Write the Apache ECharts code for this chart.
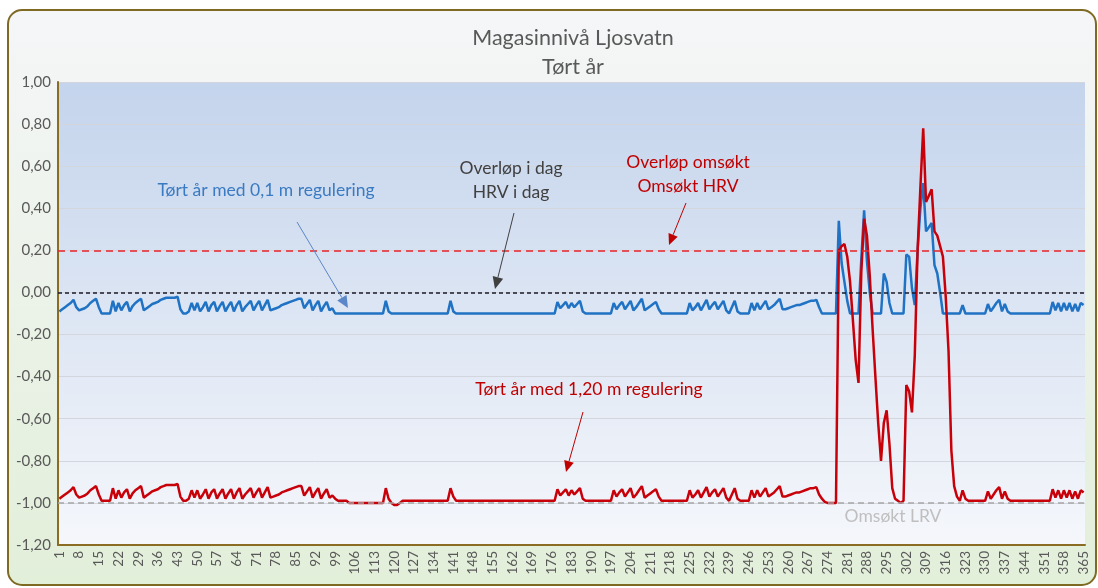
<!DOCTYPE html>
<html><head><meta charset="utf-8">
<script src="https://cdn.jsdelivr.net/npm/echarts@6.0.0/dist/echarts.min.js"></script>
<style>html,body{margin:0;padding:0;background:#fff}#c{width:1098px;height:588px}</style>
</head><body><div id="c"></div>
<script>
// ---- data ----
const days = [];
for (let d = 1; d <= 365; d++) days.push(String(d));

// Tørt år med 0,1 m regulering
const blueSeries = [
-0.09,-0.08,-0.07,-0.06,-0.05,-0.035,-0.07,-0.085,-0.08,-0.075,
-0.065,-0.05,-0.04,-0.03,-0.07,-0.10,-0.10,-0.10,-0.10,-0.04,
-0.09,-0.05,-0.085,-0.06,-0.045,-0.09,-0.065,-0.05,-0.04,-0.03,
-0.085,-0.075,-0.065,-0.055,-0.05,-0.045,-0.035,-0.03,-0.025,-0.025,
-0.025,-0.025,-0.02,-0.08,-0.10,-0.10,-0.09,-0.05,-0.085,-0.05,
-0.09,-0.07,-0.045,-0.09,-0.06,-0.045,-0.09,-0.065,-0.045,-0.09,
-0.065,-0.045,-0.09,-0.06,-0.04,-0.09,-0.07,-0.055,-0.04,-0.085,
-0.06,-0.04,-0.085,-0.06,-0.035,-0.085,-0.08,-0.075,-0.07,-0.06,
-0.055,-0.05,-0.045,-0.04,-0.035,-0.03,-0.03,-0.075,-0.055,-0.035,
-0.085,-0.06,-0.04,-0.09,-0.065,-0.045,-0.085,-0.075,-0.10,-0.10,
-0.10,-0.10,-0.10,-0.10,-0.10,-0.10,-0.10,-0.10,-0.10,-0.10,
-0.10,-0.10,-0.10,-0.10,-0.10,-0.10,-0.04,-0.09,-0.10,-0.10,
-0.10,-0.10,-0.10,-0.10,-0.10,-0.10,-0.10,-0.10,-0.10,-0.10,
-0.10,-0.10,-0.10,-0.10,-0.10,-0.10,-0.10,-0.10,-0.10,-0.04,
-0.09,-0.10,-0.10,-0.10,-0.10,-0.10,-0.10,-0.10,-0.10,-0.10,
-0.10,-0.10,-0.10,-0.10,-0.10,-0.10,-0.10,-0.10,-0.10,-0.10,
-0.10,-0.10,-0.10,-0.10,-0.10,-0.10,-0.10,-0.10,-0.10,-0.10,
-0.10,-0.10,-0.10,-0.10,-0.10,-0.10,-0.10,-0.045,-0.075,-0.06,
-0.045,-0.075,-0.05,-0.07,-0.055,-0.04,-0.09,-0.10,-0.10,-0.10,
-0.10,-0.10,-0.10,-0.10,-0.10,-0.10,-0.10,-0.05,-0.08,-0.06,
-0.045,-0.08,-0.06,-0.04,-0.085,-0.07,-0.05,-0.03,-0.085,-0.075,
-0.065,-0.055,-0.045,-0.08,-0.10,-0.10,-0.10,-0.10,-0.10,-0.10,
-0.10,-0.10,-0.10,-0.10,-0.05,-0.085,-0.07,-0.05,-0.085,-0.06,
-0.035,-0.08,-0.06,-0.045,-0.08,-0.06,-0.04,-0.085,-0.10,-0.07,
-0.04,-0.09,-0.10,-0.10,-0.10,-0.10,-0.05,-0.085,-0.05,-0.08,
-0.06,-0.04,-0.08,-0.07,-0.06,-0.045,-0.03,-0.08,-0.08,-0.075,
-0.07,-0.065,-0.06,-0.06,-0.055,-0.05,-0.045,-0.04,-0.04,-0.035,
-0.07,-0.10,-0.10,-0.10,-0.10,-0.10,-0.10,0.34,0.14,0.05,
-0.04,-0.10,-0.10,-0.10,-0.10,0.16,0.39,0.15,0.00,-0.10,
-0.10,-0.10,-0.10,0.09,0.05,-0.05,-0.10,-0.10,-0.10,-0.10,
-0.10,0.18,0.17,0.02,-0.06,0.20,0.40,0.52,0.29,0.31,
0.33,0.13,0.09,0.00,-0.10,-0.10,-0.10,-0.10,-0.10,-0.10,
-0.10,-0.06,-0.10,-0.10,-0.10,-0.10,-0.10,-0.10,-0.10,-0.10,
-0.055,-0.09,-0.07,-0.05,-0.035,-0.09,-0.055,-0.09,-0.10,-0.10,
-0.10,-0.10,-0.10,-0.10,-0.10,-0.10,-0.10,-0.10,-0.10,-0.10,
-0.10,-0.10,-0.10,-0.045,-0.085,-0.05,-0.09,-0.05,-0.085,-0.05,
-0.09,-0.055,-0.09,-0.05,-0.06
];

// Tørt år med 1,20 m regulering
const redSeries = [
-0.98,-0.97,-0.96,-0.95,-0.94,-0.925,-0.96,-0.975,-0.97,-0.965,
-0.955,-0.94,-0.93,-0.92,-0.96,-0.99,-0.99,-0.99,-0.99,-0.93,
-0.98,-0.94,-0.975,-0.95,-0.935,-0.98,-0.955,-0.94,-0.93,-0.92,
-0.975,-0.965,-0.955,-0.945,-0.94,-0.935,-0.925,-0.92,-0.915,-0.915,
-0.915,-0.915,-0.91,-0.97,-0.99,-0.99,-0.98,-0.94,-0.975,-0.94,
-0.98,-0.96,-0.935,-0.98,-0.95,-0.935,-0.98,-0.955,-0.935,-0.98,
-0.955,-0.935,-0.98,-0.95,-0.93,-0.98,-0.96,-0.945,-0.93,-0.975,
-0.95,-0.93,-0.975,-0.95,-0.925,-0.975,-0.97,-0.965,-0.96,-0.95,
-0.945,-0.94,-0.935,-0.93,-0.925,-0.92,-0.92,-0.965,-0.945,-0.925,
-0.975,-0.95,-0.93,-0.98,-0.955,-0.935,-0.975,-0.965,-0.98,-0.99,
-0.99,-0.99,-0.99,-1.00,-1.00,-1.00,-1.00,-1.00,-1.00,-1.00,
-1.00,-1.00,-1.00,-1.00,-1.00,-1.00,-0.93,-0.98,-1.00,-1.01,
-1.01,-1.00,-0.99,-0.99,-0.99,-0.99,-0.99,-0.99,-0.99,-0.99,
-0.99,-0.99,-0.99,-0.99,-0.99,-0.99,-0.99,-0.99,-0.99,-0.93,
-0.97,-0.99,-0.99,-0.99,-0.99,-0.99,-0.99,-0.99,-0.99,-0.99,
-0.99,-0.99,-0.99,-0.99,-0.99,-0.99,-0.99,-0.99,-0.99,-0.99,
-0.99,-0.99,-0.99,-0.99,-0.99,-0.99,-0.99,-0.99,-0.99,-0.99,
-0.99,-0.99,-0.99,-0.99,-0.99,-0.99,-0.99,-0.935,-0.965,-0.95,
-0.935,-0.965,-0.94,-0.96,-0.945,-0.93,-0.98,-0.99,-0.99,-0.99,
-0.99,-0.99,-0.99,-0.99,-0.99,-0.99,-0.99,-0.94,-0.97,-0.95,
-0.935,-0.97,-0.95,-0.93,-0.975,-0.96,-0.94,-0.92,-0.975,-0.965,
-0.955,-0.945,-0.935,-0.97,-0.99,-0.99,-0.99,-0.99,-0.99,-0.99,
-0.99,-0.99,-0.99,-0.99,-0.94,-0.975,-0.96,-0.94,-0.975,-0.95,
-0.925,-0.97,-0.95,-0.935,-0.97,-0.95,-0.93,-0.975,-0.99,-0.96,
-0.93,-0.98,-0.99,-0.99,-0.99,-0.99,-0.94,-0.975,-0.94,-0.97,
-0.95,-0.93,-0.97,-0.96,-0.95,-0.935,-0.92,-0.97,-0.97,-0.965,
-0.96,-0.955,-0.95,-0.95,-0.945,-0.94,-0.935,-0.93,-0.93,-0.925,
-0.96,-0.98,-0.995,-1.00,-1.00,-1.00,-1.00,0.20,0.22,0.23,
0.17,0.05,-0.13,-0.32,-0.43,0.10,0.35,0.27,0.08,-0.17,
-0.40,-0.62,-0.80,-0.62,-0.56,-0.72,-0.93,-0.98,-0.99,-1.00,
-0.99,-0.44,-0.47,-0.57,-0.30,0.20,0.50,0.78,0.43,0.46,
0.49,0.29,0.27,0.22,0.17,-0.02,-0.28,-0.75,-0.92,-0.97,
-0.99,-0.94,-0.98,-0.99,-0.99,-0.99,-0.99,-0.99,-0.99,-0.99,
-0.945,-0.98,-0.96,-0.94,-0.925,-0.98,-0.945,-0.98,-0.99,-0.99,
-0.99,-0.99,-0.99,-0.99,-0.99,-0.99,-0.99,-0.99,-0.99,-0.99,
-0.99,-0.99,-0.99,-0.935,-0.975,-0.94,-0.98,-0.94,-0.975,-0.94,
-0.98,-0.945,-0.98,-0.94,-0.95
];

// reference levels
const hrvToday = 0.0;      // Overløp i dag / HRV i dag
const hrvApplied = 0.2;    // Overløp omsøkt / Omsøkt HRV
const lrvApplied = -1.0;   // Omsøkt LRV

const yMin = -1.2, yMax = 1.0, yStep = 0.2;

// ---- chart ----
const FONT = 'Lato, "Open Sans", sans-serif';
const chart = echarts.init(document.getElementById('c'), null, {renderer: 'canvas'});

function arrow(x1, y1, x2, y2, color, w, head) {
  const ang = Math.atan2(y2 - y1, x2 - x1);
  const L = head || 11, W = (head || 11) * 0.45;
  const bx = x2 - L * Math.cos(ang), by = y2 - L * Math.sin(ang);
  const px = -Math.sin(ang) * W, py = Math.cos(ang) * W;
  return [
    {type: 'line', z: 100, shape: {x1: x1, y1: y1, x2: bx, y2: by}, style: {stroke: color, lineWidth: w}},
    {type: 'polygon', z: 100, shape: {points: [[x2, y2], [bx + px, by + py], [bx - px, by - py]]}, style: {fill: color}}
  ];
}
function txt(t, x, y, color) {
  return {type: 'text', z: 100, style: {text: t, x: x, y: y, fill: color, font: '17.5px ' + FONT, textAlign: 'center', textVerticalAlign: 'middle'}};
}

const fmt = v => (Math.abs(v) < 1e-9 ? 0 : v).toFixed(2).replace('.', ',');

const option = {
  backgroundColor: '#ffffff',
  animation: false,
  title: [
    {text: 'Magasinnivå Ljosvatn', left: 568, top: 22, textAlign: 'center',
     textStyle: {fontFamily: FONT, fontSize: 21.5, fontWeight: 'normal', color: '#595959'}},
    {text: 'Tørt år', left: 568, top: 51, textAlign: 'center',
     textStyle: {fontFamily: FONT, fontSize: 21.5, fontWeight: 'normal', color: '#595959'}}
  ],
  grid: {
    left: 58, right: 13, top: 82, bottom: 43, show: true, borderWidth: 0,
    backgroundColor: new echarts.graphic.LinearGradient(0, 0, 0, 1, [
      {offset: 0, color: '#c4d4ec'}, {offset: 1, color: '#f5f7fb'}
    ])
  },
  xAxis: {
    type: 'category', data: days, boundaryGap: true,
    axisLine: {onZero: false, lineStyle: {color: '#8a6d22', width: 2}},
    axisTick: {show: false},
    axisLabel: {interval: 6, rotate: 90, fontFamily: FONT, fontSize: 13.5, color: '#595959', margin: 6},
    splitLine: {show: false}
  },
  yAxis: {
    type: 'value', min: yMin, max: yMax, interval: yStep,
    axisLine: {show: true, lineStyle: {color: '#8a6d22', width: 2}},
    axisTick: {show: false},
    axisLabel: {formatter: fmt, fontFamily: FONT, fontSize: 15, color: '#595959', margin: 7},
    splitLine: {lineStyle: {color: '#d3d6dc', width: 1}}
  },
  series: [
    {name: 'Tørt år med 0,1 m regulering', type: 'line', data: blueSeries, showSymbol: false, z: 2,
     lineStyle: {color: '#1f72c4', width: 2.5}, itemStyle: {color: '#1f72c4'}},
    {name: 'Tørt år med 1,20 m regulering', type: 'line', data: redSeries, showSymbol: false, z: 3,
     lineStyle: {color: '#c8000a', width: 2.5}, itemStyle: {color: '#c8000a'}},
    {name: 'ref', type: 'line', data: [], z: 4,
     markLine: {silent: true, symbol: 'none', label: {show: false}, animation: false,
       data: [
         {yAxis: hrvToday, lineStyle: {color: '#1a1a2a', type: [4, 3], width: 1.5}},
         {yAxis: hrvApplied, lineStyle: {color: '#e8242a', type: [7, 5], width: 1.5}},
         {yAxis: lrvApplied, lineStyle: {color: '#a6a6a6', type: [6, 4], width: 1.5}}
       ]}}
  ],
  graphic: [
    {type: 'rect', z: -10, shape: {x: 8, y: 10, width: 1088, height: 575, r: 14},
     style: {stroke: '#7f6a24', lineWidth: 2,
       fill: new echarts.graphic.LinearGradient(0, 0, 0, 1, [
         {offset: 0, color: '#f5f6f8'}, {offset: 1, color: '#e2efd9'}
       ])}},
    txt('Tørt år med 0,1 m regulering', 266, 190, '#3a7ac2'),
    txt('Overløp i dag', 511, 168, '#404040'),
    txt('HRV i dag', 511, 192, '#404040'),
    txt('Overløp omsøkt', 688, 162, '#c00000'),
    txt('Omsøkt HRV', 688, 186, '#c00000'),
    txt('Tørt år med 1,20 m regulering', 589, 389, '#c00000'),
    txt('Omsøkt LRV', 893, 516, '#bfbfbf'),
    ...arrow(297, 222, 348, 308, '#5b87c9', 1, 12),
    ...arrow(514, 213, 495, 289, '#404040', 1, 12),
    ...arrow(686, 203, 669, 245, '#c00000', 1, 11),
    ...arrow(583, 412, 566, 472, '#c00000', 1, 11)
  ]
};
chart.setOption(option);
</script>
</body></html>
